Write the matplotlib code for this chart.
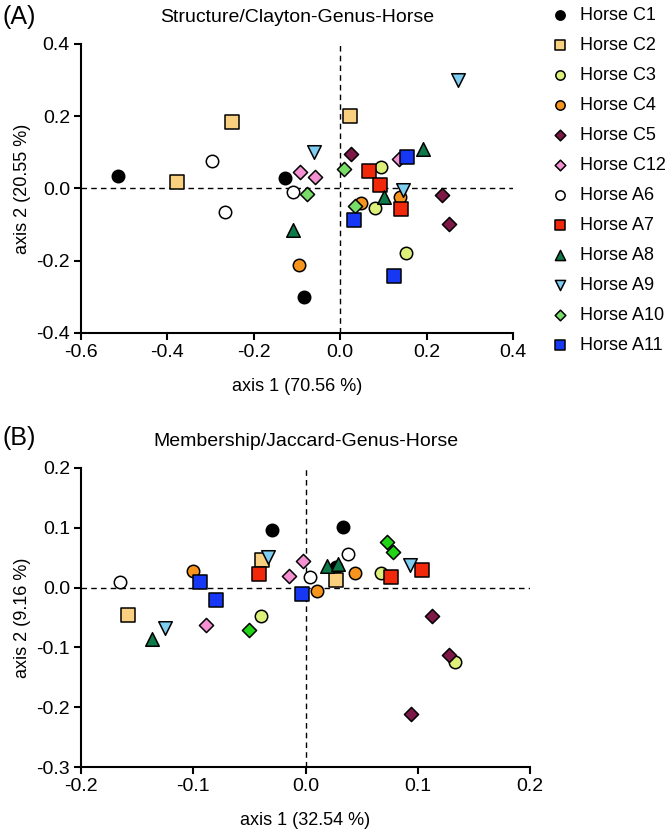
import matplotlib.pyplot as plt
import numpy as np

plt.rcParams['font.family'] = ['Liberation Sans', 'DejaVu Sans']

# 样本名称
names = ['Horse C1', 'Horse C2', 'Horse C3', 'Horse C4', 'Horse C5', 'Horse C12',
         'Horse A6', 'Horse A7', 'Horse A8', 'Horse A9', 'Horse A10', 'Horse A11']
markers = ['o', 's', 'o', 'o', 'D', 'D', 'o', 's', '^', 'v', 'D', 's']
colors = ['#000000', '#f9cf80', '#dcf07a', '#f7941d', '#7e1846', '#f590d2',
          '#ffffff', '#f2280a', '#0e7a4a', '#80cdf2', '#78de68', '#1638f5']
colors_b = list(colors)
colors_b[10] = '#22d418'

# (A) Structure/Clayton 坐标
a_x = [[-0.514, -0.127, -0.083], [-0.378, -0.250, 0.023], [0.094, 0.081, 0.152],
       [-0.095, 0.048, 0.138], [0.025, 0.236, 0.251], [-0.092, -0.058, 0.135],
       [-0.297, -0.267, -0.110], [0.066, 0.091, 0.140], [-0.110, 0.101, 0.192],
       [-0.060, 0.145, 0.273], [-0.077, 0.009, 0.034], [0.033, 0.155, 0.124]]
a_y = [[0.035, 0.029, -0.300], [0.017, 0.184, 0.200], [0.059, -0.053, -0.179],
       [-0.212, -0.041, -0.024], [0.096, -0.017, -0.098], [0.045, 0.032, 0.082],
       [0.076, -0.066, -0.011], [0.048, 0.010, -0.058], [-0.115, -0.024, 0.108],
       [0.100, -0.003, 0.300], [-0.016, 0.053, -0.048], [-0.087, 0.086, -0.241]]

# (B) Membership/Jaccard 坐标
b_x = [[-0.030, 0.033, 0.027], [-0.158, -0.039, 0.027], [-0.040, 0.067, 0.133],
       [-0.100, 0.0105, 0.044], [0.113, 0.128, 0.094], [-0.089, -0.015, -0.002],
       [-0.165, 0.004, 0.038], [-0.041, 0.076, 0.104], [-0.137, 0.019, 0.029],
       [-0.125, -0.033, 0.093], [-0.050, 0.073, 0.078], [-0.094, -0.080, -0.003]]
b_y = [[0.096, 0.101, 0.034], [-0.046, 0.046, 0.012], [-0.047, 0.024, -0.125],
       [0.028, -0.006, 0.025], [-0.047, -0.112, -0.212], [-0.062, 0.019, 0.044],
       [0.009, 0.018, 0.056], [0.023, 0.017, 0.029], [-0.086, 0.036, 0.040],
       [-0.067, 0.052, 0.038], [-0.071, 0.076, 0.059], [0.009, -0.021, -0.011]]

a_xticks = [-0.6, -0.4, -0.2, 0.0, 0.2, 0.4]
a_yticks = [-0.4, -0.2, 0.0, 0.2, 0.4]
b_xticks = [-0.2, -0.1, 0.0, 0.1, 0.2]
b_yticks = [-0.3, -0.2, -0.1, 0.0, 0.1, 0.2]

W, H = 669, 834
fig = plt.figure(figsize=(W / 100, H / 100), dpi=100)
axA = fig.add_axes([81 / W, 1 - 333 / H, 432 / W, 289 / H])
axB = fig.add_axes([81 / W, 1 - 767 / H, 449 / W, 299 / H])

sizes = {'o': 80, 's': 105, 'D': 52, '^': 95, 'v': 95}


def draw(ax, xs, ys, cols, xt, yt, xlabel, ylabel, title):
    handles = []
    for i in range(len(names)):
        m = markers[i]
        h = ax.scatter(xs[i], ys[i], marker=m, s=sizes[m], c=cols[i],
                       edgecolors='black', linewidths=1.1, zorder=3, label=names[i])
        handles.append(h)
    ax.axhline(0, color='black', ls=(0, (4, 3)), lw=1.0, zorder=1)
    ax.axvline(0, color='black', ls=(0, (4, 3)), lw=1.0, zorder=1)
    ax.set_xlim(xt[0], xt[-1])
    ax.set_ylim(yt[0], yt[-1])
    ax.set_xticks(xt)
    ax.set_yticks(yt)
    ax.set_xticklabels(['%.1f' % v for v in xt])
    ax.set_yticklabels(['%.1f' % v for v in yt])
    ax.tick_params(direction='out', length=5, width=1.5, labelsize=14, pad=3)
    for s in ['top', 'right']:
        ax.spines[s].set_visible(False)
    for s in ['left', 'bottom']:
        ax.spines[s].set_linewidth(1.5)
    ax.set_xlabel(xlabel, fontsize=13, labelpad=12)
    ax.set_ylabel(ylabel, fontsize=13, labelpad=4)
    ax.set_title(title, fontsize=14, pad=16)
    return handles


hA = draw(axA, a_x, a_y, colors, a_xticks, a_yticks,
          'axis 1 (70.56 %)', 'axis 2 (20.55 %)', 'Structure/Clayton-Genus-Horse')
draw(axB, b_x, b_y, colors_b, b_xticks, b_yticks,
     'axis 1 (32.54 %)', 'axis 2 (9.16 %)', 'Membership/Jaccard-Genus-Horse')

fig.text(2 / W, 1 - 17 / H, '(A)', fontsize=18, va='center')
fig.text(2 / W, 1 - 438 / H, '(B)', fontsize=18, va='center')

fig.legend(handles=hA, loc='upper left', bbox_to_anchor=(544 / W, 1 - 0 / H),
           frameon=False, fontsize=13, markerscale=0.75, labelspacing=0.72,
           handletextpad=0.6, handlelength=1.0, borderaxespad=0)

fig.savefig('out.png', dpi=100)
